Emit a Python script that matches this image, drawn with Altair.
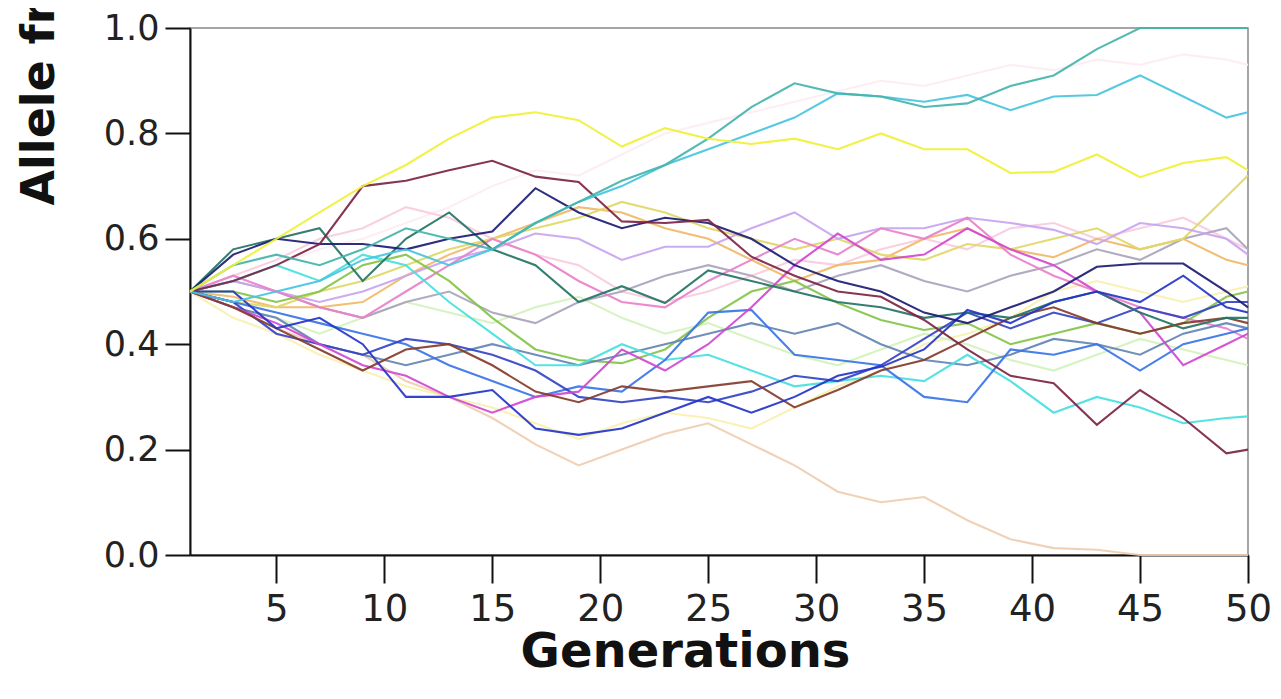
import altair as alt
import pandas as pd

# Generations at which values were read
GENS = [1, 3, 5, 7, 9, 11, 13, 15, 17, 19, 21, 23, 25, 27, 29, 31, 33, 35, 37, 39, 41, 43, 45, 47, 49, 50]

# Allele frequency per run
run_teal_fix = [.50, .55, .57, .55, .58, .62, .60, .58, .63, .67, .71, .74, .79, .85, .895, .876, .87, .85, .857, .89, .91, .96, 1.0, 1.0, 1.0, 1.0]
run_cyan = [.50, .48, .50, .52, .56, .58, .55, .58, .63, .67, .70, .74, .77, .80, .83, .876, .87, .86, .873, .844, .87, .873, .91, .87, .83, .84]
run_yellow = [.50, .55, .60, .65, .70, .74, .79, .83, .84, .825, .775, .81, .79, .78, .79, .77, .80, .77, .77, .725, .727, .76, .717, .744, .755, .73]
run_olive = [.50, .48, .47, .50, .52, .55, .58, .60, .62, .64, .67, .65, .62, .60, .58, .60, .57, .56, .59, .58, .60, .62, .58, .60, .68, .72]
run_lavender = [.50, .52, .50, .48, .50, .53, .56, .58, .61, .60, .56, .585, .585, .62, .65, .60, .62, .62, .64, .63, .617, .59, .63, .62, .60, .57]
run_maroon = [.50, .52, .55, .59, .70, .71, .73, .748, .718, .708, .633, .63, .636, .566, .53, .50, .49, .446, .39, .34, .326, .247, .313, .26, .193, .20]
run_navy = [.50, .57, .60, .59, .59, .58, .60, .614, .696, .65, .62, .64, .63, .60, .55, .52, .50, .46, .44, .47, .50, .547, .553, .553, .50, .47]
run_blue_low = [.50, .50, .43, .45, .40, .30, .30, .313, .24, .228, .24, .27, .30, .27, .30, .34, .357, .39, .465, .44, .48, .50, .48, .53, .47, .46]
run_brown = [.50, .47, .43, .39, .35, .39, .40, .36, .31, .29, .32, .31, .32, .33, .28, .313, .35, .37, .41, .45, .47, .44, .42, .44, .45, .44]
run_cyan_bright = [.50, .52, .55, .52, .57, .55, .48, .42, .36, .36, .40, .37, .38, .35, .32, .33, .34, .33, .38, .33, .27, .30, .28, .25, .26, .263]
run_green = [.50, .50, .48, .50, .55, .57, .52, .45, .39, .37, .364, .39, .45, .50, .52, .478, .446, .427, .44, .40, .42, .44, .42, .44, .49, .50]
run_dark_teal = [.50, .58, .60, .62, .52, .60, .65, .58, .55, .48, .51, .478, .54, .52, .50, .48, .47, .45, .46, .45, .48, .50, .46, .43, .45, .45]
run_magenta = [.50, .47, .44, .40, .36, .34, .30, .27, .30, .31, .39, .35, .40, .47, .55, .61, .56, .57, .62, .58, .55, .50, .46, .36, .40, .42]
run_pink = [.50, .53, .50, .47, .45, .50, .55, .60, .57, .52, .48, .47, .52, .56, .60, .57, .62, .60, .64, .57, .53, .50, .47, .45, .43, .41]
run_slate = [.50, .47, .45, .40, .38, .36, .38, .40, .38, .36, .38, .40, .42, .44, .42, .44, .40, .37, .36, .38, .41, .40, .38, .42, .44, .43]
run_blue = [.50, .48, .46, .44, .42, .40, .36, .33, .30, .32, .31, .37, .46, .465, .38, .37, .36, .30, .29, .39, .38, .40, .35, .40, .42, .43]
run_tan = [.50, .47, .43, .40, .38, .33, .30, .26, .21, .17, .20, .23, .25, .21, .17, .12, .10, .11, .066, .03, .013, .01, 0.0, 0.0, 0.0, 0.0]
run_pale_yellow = [.50, .45, .42, .38, .35, .32, .30, .28, .25, .22, .25, .27, .26, .24, .28, .32, .35, .40, .42, .45, .50, .52, .50, .48, .50, .51]
run_pale_pink = [.50, .53, .56, .60, .62, .66, .64, .60, .57, .55, .50, .48, .50, .53, .56, .55, .58, .60, .58, .62, .63, .60, .62, .64, .60, .58]
run_pale_green = [.50, .47, .45, .42, .45, .48, .46, .44, .47, .49, .45, .42, .44, .41, .38, .36, .39, .42, .40, .37, .35, .38, .41, .39, .37, .36]
run_pale_rose = [.50, .52, .55, .58, .60, .63, .66, .70, .73, .72, .76, .80, .82, .84, .86, .88, .90, .89, .91, .93, .92, .94, .93, .95, .94, .93]
run_orange = [.50, .49, .47, .47, .48, .53, .57, .60, .63, .66, .65, .62, .60, .56, .52, .55, .56, .60, .62, .58, .565, .60, .58, .60, .56, .55]
run_royal = [.50, .48, .42, .40, .38, .41, .40, .38, .35, .30, .29, .30, .29, .31, .34, .33, .36, .41, .46, .43, .46, .44, .47, .45, .48, .48]
run_grey = [.50, .52, .50, .47, .45, .48, .50, .46, .44, .48, .50, .53, .55, .53, .50, .53, .55, .52, .50, .53, .55, .58, .56, .60, .62, .58]

RUN_NAMES = ["pale_rose", "pale_yellow", "pale_pink", "pale_green", "tan", "grey", "orange",
             "olive", "lavender", "pink", "green", "slate", "cyan_bright", "blue", "royal",
             "magenta", "brown", "dark_teal", "blue_low", "navy", "maroon", "cyan", "teal_fix", "yellow"]
RUNS = {
    "pale_rose": run_pale_rose, "pale_yellow": run_pale_yellow, "pale_pink": run_pale_pink,
    "pale_green": run_pale_green, "tan": run_tan, "grey": run_grey, "orange": run_orange,
    "olive": run_olive, "lavender": run_lavender, "pink": run_pink, "green": run_green,
    "slate": run_slate, "cyan_bright": run_cyan_bright, "blue": run_blue, "royal": run_royal,
    "magenta": run_magenta, "brown": run_brown, "dark_teal": run_dark_teal,
    "blue_low": run_blue_low, "navy": run_navy, "maroon": run_maroon, "cyan": run_cyan,
    "teal_fix": run_teal_fix, "yellow": run_yellow,
}
RUN_COLORS = ["#fcedf3", "#f8f0b0", "#f8cce0", "#d4f2bc", "#f0cdb0", "#aaa4bc", "#f0b868",
              "#e0d868", "#c8a4f0", "#e880cc", "#84c448", "#6484b4", "#48e0e0", "#3874e8", "#3444c4",
              "#d048d0", "#843c2c", "#247464", "#2434c8", "#1c1c74", "#7c2444", "#48c4e0", "#44b4ac", "#f0f038"]

rows = []
for name in RUN_NAMES:
    for g, v in zip(GENS, RUNS[name]):
        rows.append({"gen": g, "freq": v, "run": name, "order": RUN_NAMES.index(name)})
df = pd.DataFrame(rows)

FONT = "DejaVu Sans"

chart = alt.Chart(df).mark_line(strokeWidth=2.1, opacity=0.92, interpolate="linear").encode(
    x=alt.X("gen:Q", scale=alt.Scale(domain=[1, 50], nice=False, zero=False),
            axis=alt.Axis(values=[5, 10, 15, 20, 25, 30, 35, 40, 45, 50], grid=False,
                          tickSize=28, tickWidth=2, tickColor="#111", domainColor="#111", domainWidth=2,
                          labelFont=FONT, labelFontSize=37, labelColor="#222", labelPadding=8,
                          labelFlush=False, labelOverlap=False, labelBound=False,
                          title="Generations", titleFont=FONT, titleFontSize=48, titleFontWeight="bold",
                          titleColor="#111", titleX=495, titleY=111, titleAlign="center",
                          titleBaseline="alphabetic")),
    y=alt.Y("freq:Q", scale=alt.Scale(domain=[0, 1], nice=False),
            axis=alt.Axis(values=[0, 0.2, 0.4, 0.6, 0.8, 1.0], format=".1f", grid=False,
                          tickSize=25, tickWidth=2, tickColor="#111", domainColor="#111", domainWidth=2,
                          labelFont=FONT, labelFontSize=35, labelColor="#222", labelPadding=6,
                          labelFlush=False, labelOverlap=False,
                          title="Allele frequency", titleFont=FONT, titleFontSize=46, titleFontWeight="bold",
                          titleColor="#111", titleAngle=270, titleX=-137, titleY=177, titleAlign="left",
                          titleBaseline="alphabetic")),
    color=alt.Color("run:N", scale=alt.Scale(domain=RUN_NAMES, range=RUN_COLORS), legend=None),
    order=alt.Order("order:Q"),
).properties(
    width=1058, height=527,
    autosize=alt.AutoSizeParams(type="none"),
    padding={"left": 182, "top": 20, "right": 24, "bottom": 128},
).configure_view(stroke="#888", strokeWidth=1.5)

chart.save("out.html", embed_options={"renderer": "svg", "actions": False})
